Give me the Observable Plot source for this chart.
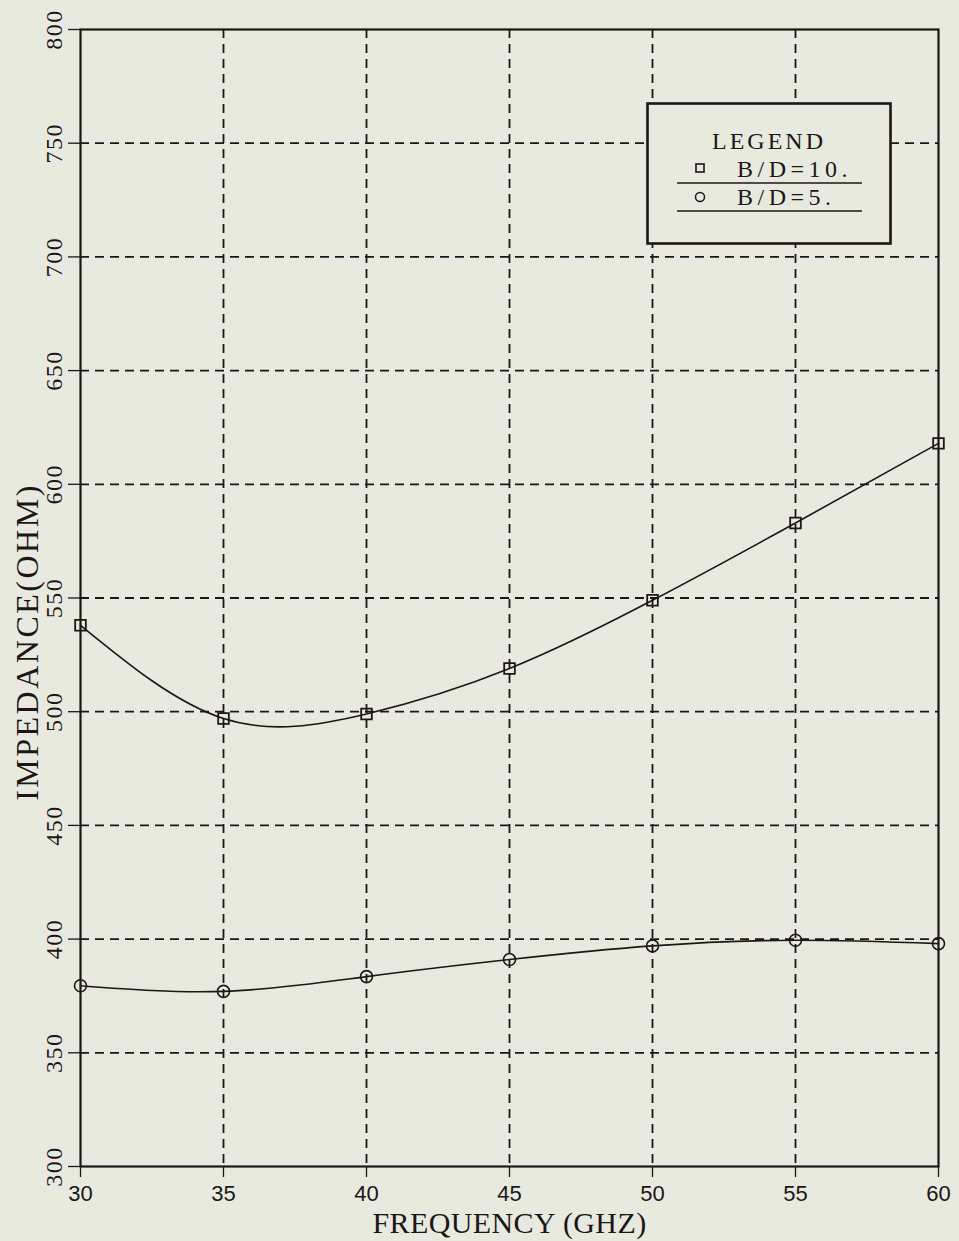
<!DOCTYPE html>
<html>
<head>
<meta charset="utf-8">
<script src="https://cdn.jsdelivr.net/npm/d3@7"></script>
<script src="https://cdn.jsdelivr.net/npm/@observablehq/plot@0.6"></script>
<style>
  html, body { margin: 0; padding: 0; background: #e9eadf; }
  #wrap { position: relative; width: 959px; height: 1241px; }
  #legend { position: absolute; left: 646px; top: 102px; }
</style>
</head>
<body>
<div id="wrap"></div>
<script>
// Frequency sweep (GHz) and computed impedance (ohm) for two B/D ratios
const frequency = [30, 35, 40, 45, 50, 55, 60];
const impedanceBD10 = [538, 497, 499, 519, 549, 583, 618];
const impedanceBD5 = [379.5, 377, 383.5, 391, 397, 399.5, 398];

const xTicks = [30, 35, 40, 45, 50, 55, 60];
const yTicks = [300, 350, 400, 450, 500, 550, 600, 650, 700, 750, 800];
const seriesNames = ["B/D=10.", "B/D=5."];
const xTitle = "FREQUENCY (GHZ)";
const yTitle = "IMPEDANCE(OHM)";

const ink = "#1c1616";
const paper = "#e9eadf";
const serif = "'Liberation Serif', 'DejaVu Serif', serif";
const sans = "'Liberation Sans', Arial, sans-serif";

const rows10 = frequency.map((f, i) => ({f, z: impedanceBD10[i]}));
const rows5 = frequency.map((f, i) => ({f, z: impedanceBD5[i]}));

const chart = Plot.plot({
  width: 959,
  height: 1241,
  marginLeft: 80,
  marginRight: 21,
  marginTop: 29,
  marginBottom: 75,
  style: {background: "transparent", color: ink},
  x: {domain: [30, 60]},
  y: {domain: [300, 800]},
  marks: [
    // dashed interior grid
    Plot.gridX(xTicks.slice(1, -1), {stroke: ink, strokeOpacity: 1, strokeWidth: 1.8, strokeDasharray: "9,6"}),
    Plot.gridY(yTicks.slice(1, -1), {stroke: ink, strokeOpacity: 1, strokeWidth: 1.8, strokeDasharray: "9,6"}),
    // outward ticks without text
    Plot.axisX(xTicks, {tickSize: 11, tickFormat: () => "", label: null, stroke: ink, strokeWidth: 1.3}),
    Plot.axisY(yTicks, {tickSize: 12, tickFormat: () => "", label: null, stroke: ink, strokeWidth: 1.3}),
    // tick labels
    Plot.text(xTicks, {x: d => d, frameAnchor: "bottom", dy: 27, text: d => String(d),
      fontFamily: sans, fontSize: 22, fill: ink, lineAnchor: "middle"}),
    Plot.text(yTicks, {y: d => d, frameAnchor: "left", dx: -26, rotate: -90, text: d => String(d),
      fontFamily: serif, fontSize: 24, fill: ink, textAnchor: "middle", lineAnchor: "middle"}),
    // axis titles
    Plot.text([xTitle], {frameAnchor: "bottom", dx: 0, dy: 57, fontFamily: serif, fontSize: 30,
      fill: ink, lineAnchor: "middle"}),
    Plot.text([yTitle], {frameAnchor: "left", dx: -53, dy: 44, rotate: -90, fontFamily: serif,
      fontSize: 32, fill: ink, textAnchor: "middle", lineAnchor: "middle"}),
    // curves
    Plot.line(rows10, {x: "f", y: "z", curve: "natural", stroke: ink, strokeWidth: 1.6}),
    Plot.line(rows5, {x: "f", y: "z", curve: "natural", stroke: ink, strokeWidth: 1.6}),
    Plot.dot(rows10, {x: "f", y: "z", symbol: "square", r: 6, stroke: ink, strokeWidth: 1.8, fill: "none"}),
    Plot.dot(rows5, {x: "f", y: "z", symbol: "circle", r: 6, stroke: ink, strokeWidth: 1.6, fill: "none"}),
    Plot.frame({stroke: ink, strokeWidth: 2.2})
  ]
});

// plotter lettering is widely spaced
const yTickStrings = new Set(yTicks.map(String));
d3.select(chart).selectAll("text").each(function() {
  const t = this.textContent;
  if (t === yTitle) d3.select(this).attr("letter-spacing", 2.5);
  else if (yTickStrings.has(t)) d3.select(this).attr("letter-spacing", 1.5);
  else if (t === xTitle) d3.select(this).attr("letter-spacing", 0.4);
});

const wrap = document.getElementById("wrap");
wrap.appendChild(chart);

// Boxed legend drawn over the plot area
const lw = 246, lh = 143;
const leg = d3.create("svg").attr("id", "legend").attr("width", lw).attr("height", lh);
leg.append("rect").attr("x", 1.5).attr("y", 1.5).attr("width", lw - 3).attr("height", lh - 3)
  .attr("fill", paper).attr("stroke", ink).attr("stroke-width", 2.6);
leg.append("text").attr("x", 123).attr("y", 47).attr("text-anchor", "middle")
  .attr("font-family", serif).attr("font-size", 24).attr("letter-spacing", 3).attr("fill", ink).text("LEGEND");
seriesNames.forEach((name, i) => {
  const base = 75 + i * 28;
  if (i === 0) {
    leg.append("rect").attr("x", 50).attr("y", base - 13).attr("width", 8).attr("height", 8)
      .attr("fill", "none").attr("stroke", ink).attr("stroke-width", 1.6);
  } else {
    leg.append("circle").attr("cx", 54).attr("cy", base - 8).attr("r", 4.5)
      .attr("fill", "none").attr("stroke", ink).attr("stroke-width", 1.5);
  }
  leg.append("text").attr("x", 91).attr("y", base).attr("font-family", serif)
    .attr("font-size", 24).attr("letter-spacing", 4.5).attr("fill", ink).text(name);
  leg.append("line").attr("x1", 31).attr("x2", 216).attr("y1", base + 6).attr("y2", base + 6)
    .attr("stroke", ink).attr("stroke-width", 1.6);
});
wrap.appendChild(leg.node());
</script>
</body>
</html>
